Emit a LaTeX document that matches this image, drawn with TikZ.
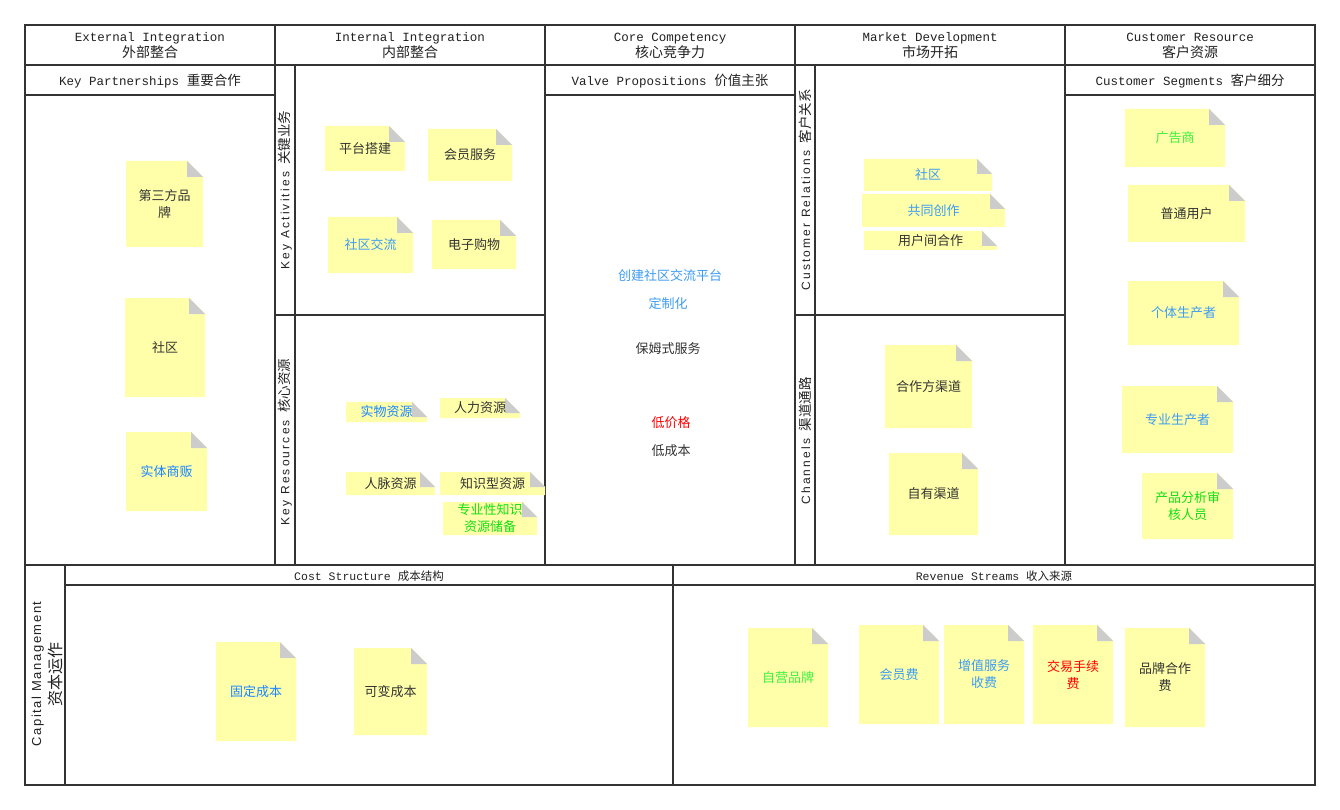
\documentclass[tikz,border=0pt]{standalone}
\usepackage{fontspec}
\setmainfont{Liberation Mono}
\newfontfamily\cjk{Noto Sans CJK SC}
\newfontfamily\spaced[LetterSpace=18]{Liberation Sans}
\newfontfamily\spacedb[LetterSpace=12]{Liberation Sans}
\definecolor{framecol}{HTML}{333333}
\definecolor{txtdark}{HTML}{222222}
\definecolor{notedark}{HTML}{333333}
\definecolor{noteyellow}{HTML}{FFFFAA}
\definecolor{foldgrey}{HTML}{CCCCCC}
\definecolor{blueA}{HTML}{3D9CF2}
\definecolor{blueB}{HTML}{1A85FF}
\definecolor{greenA}{HTML}{3DF23D}
\definecolor{greenB}{HTML}{11E011}
\definecolor{redA}{HTML}{FF0000}
\newcommand\stickynote[8]{%
  \fill[noteyellow] (#2,#3) -- ({#4-#6},#3) -- (#4,{#3+#6}) -- (#4,#5) -- (#2,#5) -- cycle;
  \fill[foldgrey] ({#4-#6},#3) -- ({#4-#6},{#3+#6}) -- (#4,{#3+#6}) -- cycle;
  \node[notetext,text=#7] (#1) at ({(#2+#4)/2},{(#3+#5)/2}) {#8};
}
\newcommand\hz[1]{{\cjk\fontsize{14}{16}\selectfont #1}}
\newcommand\vz[1]{{\cjk\fontsize{13.5}{16}\selectfont #1}}
\begin{document}
\begin{tikzpicture}[x=1pt,y=-1pt,
  frame/.style={draw=framecol,line width=1.6pt},
  hdr/.style={font=\fontsize{12.5}{16}\selectfont,align=center,text=txtdark,inner sep=0pt},
  sec/.style={font=\fontsize{12.5}{16}\selectfont,align=center,text=txtdark,inner sep=0pt},
  small/.style={font=\fontsize{11.5}{14}\selectfont,align=center,text=txtdark,inner sep=0pt},
  vlab/.style={rotate=90,font=\fontsize{12}{15}\selectfont,align=center,text=txtdark,inner sep=0pt},
  notetext/.style={font=\cjk\fontsize{13}{17}\selectfont,align=center,inner sep=0pt},
  vptext/.style={font=\cjk\fontsize{13}{16}\selectfont,inner sep=0pt}]
\useasboundingbox (0,0) rectangle (1340,810);
\fill[white] (0,0) rectangle (1340,810);
% frame
\draw[frame] (25,25) rectangle (1315,785);
\draw[frame] (25,65) -- (1315,65);
\draw[frame] (25,95) -- (275,95);
\draw[frame] (545,95) -- (795,95);
\draw[frame] (1065,95) -- (1315,95);
\draw[frame] (275,25) -- (275,565);
\draw[frame] (545,25) -- (545,565);
\draw[frame] (795,25) -- (795,565);
\draw[frame] (1065,25) -- (1065,565);
\draw[frame] (295,65) -- (295,565);
\draw[frame] (815,65) -- (815,565);
\draw[frame] (275,315) -- (545,315);
\draw[frame] (795,315) -- (1065,315);
\draw[frame] (25,565) -- (1315,565);
\draw[frame] (65,565) -- (65,785);
\draw[frame] (65,585) -- (1315,585);
\draw[frame] (673,565) -- (673,785);
% headers
\node[hdr] (hExt) at (150,46) {External Integration\\\hz{外部整合}};
\node[hdr] (hInt) at (410,46) {Internal Integration\\\hz{内部整合}};
\node[hdr] (hCore) at (670,46) {Core Competency\\\hz{核心竞争力}};
\node[hdr] (hMkt) at (930,46) {Market Development\\\hz{市场开拓}};
\node[hdr] (hCust) at (1190,46) {Customer Resource\\\hz{客户资源}};
\node[sec] (sKP) at (150,81) {Key Partnerships \vz{重要合作}};
\node[sec] (sVP) at (670,81) {Valve Propositions \vz{价值主张}};
\node[sec] (sCS) at (1190,81) {Customer Segments \vz{客户细分}};
\node[small] (sCost) at (369,576) {Cost Structure {\cjk 成本结构}};
\node[small] (sRev) at (994,576) {Revenue Streams {\cjk 收入来源}};
\node[vlab] (sKA) at (285,190) {{\spaced Key Activities} \vz{关键业务}};
\node[vlab] (sKR) at (285,442) {{\spaced Key Resources} \vz{核心资源}};
\node[vlab] (sCR) at (805,190) {{\spaced Customer Relations} \vz{客户关系}};
\node[vlab] (sCh) at (805,441) {{\spaced Channels} \vz{渠道通路}};
\node[vlab,font=\fontsize{13}{20}\selectfont] (sCap) at (47,674) {{\spacedb Capital Management}\\{\cjk\fontsize{16}{20}\selectfont 资本运作}};
% Key Partnerships
\stickynote{kp1}{126}{161}{203}{247}{16}{notedark}{第三方品\\牌}
\stickynote{kp2}{125}{298}{205}{397}{16}{notedark}{社区}
\stickynote{kp3}{126}{432}{207}{511}{16}{blueB}{实体商贩}
% Key Activities
\stickynote{ka1}{325}{126}{405}{171}{16}{notedark}{平台搭建}
\stickynote{ka2}{428}{129}{512}{181}{16}{notedark}{会员服务}
\stickynote{ka3}{328}{217}{413}{273}{16}{blueA}{社区交流}
\stickynote{ka4}{432}{220}{516}{269}{16}{notedark}{电子购物}
% Key Resources
\stickynote{kr1}{346}{402}{427}{422}{15}{blueB}{实物资源}
\stickynote{kr2}{440}{398}{520}{418}{15}{notedark}{人力资源}
\stickynote{kr3}{346}{472}{435}{495}{15}{notedark}{人脉资源}
\stickynote{kr4}{440}{472}{545}{495}{15}{notedark}{知识型资源}
\stickynote{kr5}{443}{502}{537}{535}{15}{greenB}{专业性知识\\资源储备}
% Value propositions
\node[vptext,text=blueA] (vp1) at (670,276) {创建社区交流平台};
\node[vptext,text=blueA] (vp2) at (668,304) {定制化};
\node[vptext,text=notedark] (vp3) at (668,349) {保姆式服务};
\node[vptext,text=redA] (vp4) at (671,423) {低价格};
\node[vptext,text=notedark] (vp5) at (671,451) {低成本};
% Customer relations
\stickynote{cr1}{864}{159}{992}{191}{15}{blueA}{社区}
\stickynote{cr2}{862}{194}{1005}{227}{15}{blueA}{共同创作}
\stickynote{cr3}{864}{231}{997}{250}{15}{notedark}{用户间合作}
% Channels
\stickynote{ch1}{885}{345}{972}{428}{16}{notedark}{合作方渠道}
\stickynote{ch2}{889}{453}{978}{535}{16}{notedark}{自有渠道}
% Customer segments
\stickynote{cs1}{1125}{109}{1225}{167}{16}{greenA}{广告商}
\stickynote{cs2}{1128}{185}{1245}{242}{16}{notedark}{普通用户}
\stickynote{cs3}{1128}{281}{1239}{345}{16}{blueA}{个体生产者}
\stickynote{cs4}{1122}{386}{1233}{453}{16}{blueA}{专业生产者}
\stickynote{cs5}{1142}{473}{1233}{539}{16}{greenB}{产品分析审\\核人员}
% Cost structure
\stickynote{co1}{216}{642}{296}{741}{16}{blueB}{固定成本}
\stickynote{co2}{354}{648}{427}{735}{16}{notedark}{可变成本}
% Revenue streams
\stickynote{rv1}{748}{628}{828}{727}{16}{greenA}{自营品牌}
\stickynote{rv2}{859}{625}{939}{724}{16}{blueA}{会员费}
\stickynote{rv3}{944}{625}{1024}{724}{16}{blueA}{增值服务\\收费}
\stickynote{rv4}{1033}{625}{1113}{724}{16}{redA}{交易手续\\费}
\stickynote{rv5}{1125}{628}{1205}{727}{16}{notedark}{品牌合作\\费}
\end{tikzpicture}
\end{document}
